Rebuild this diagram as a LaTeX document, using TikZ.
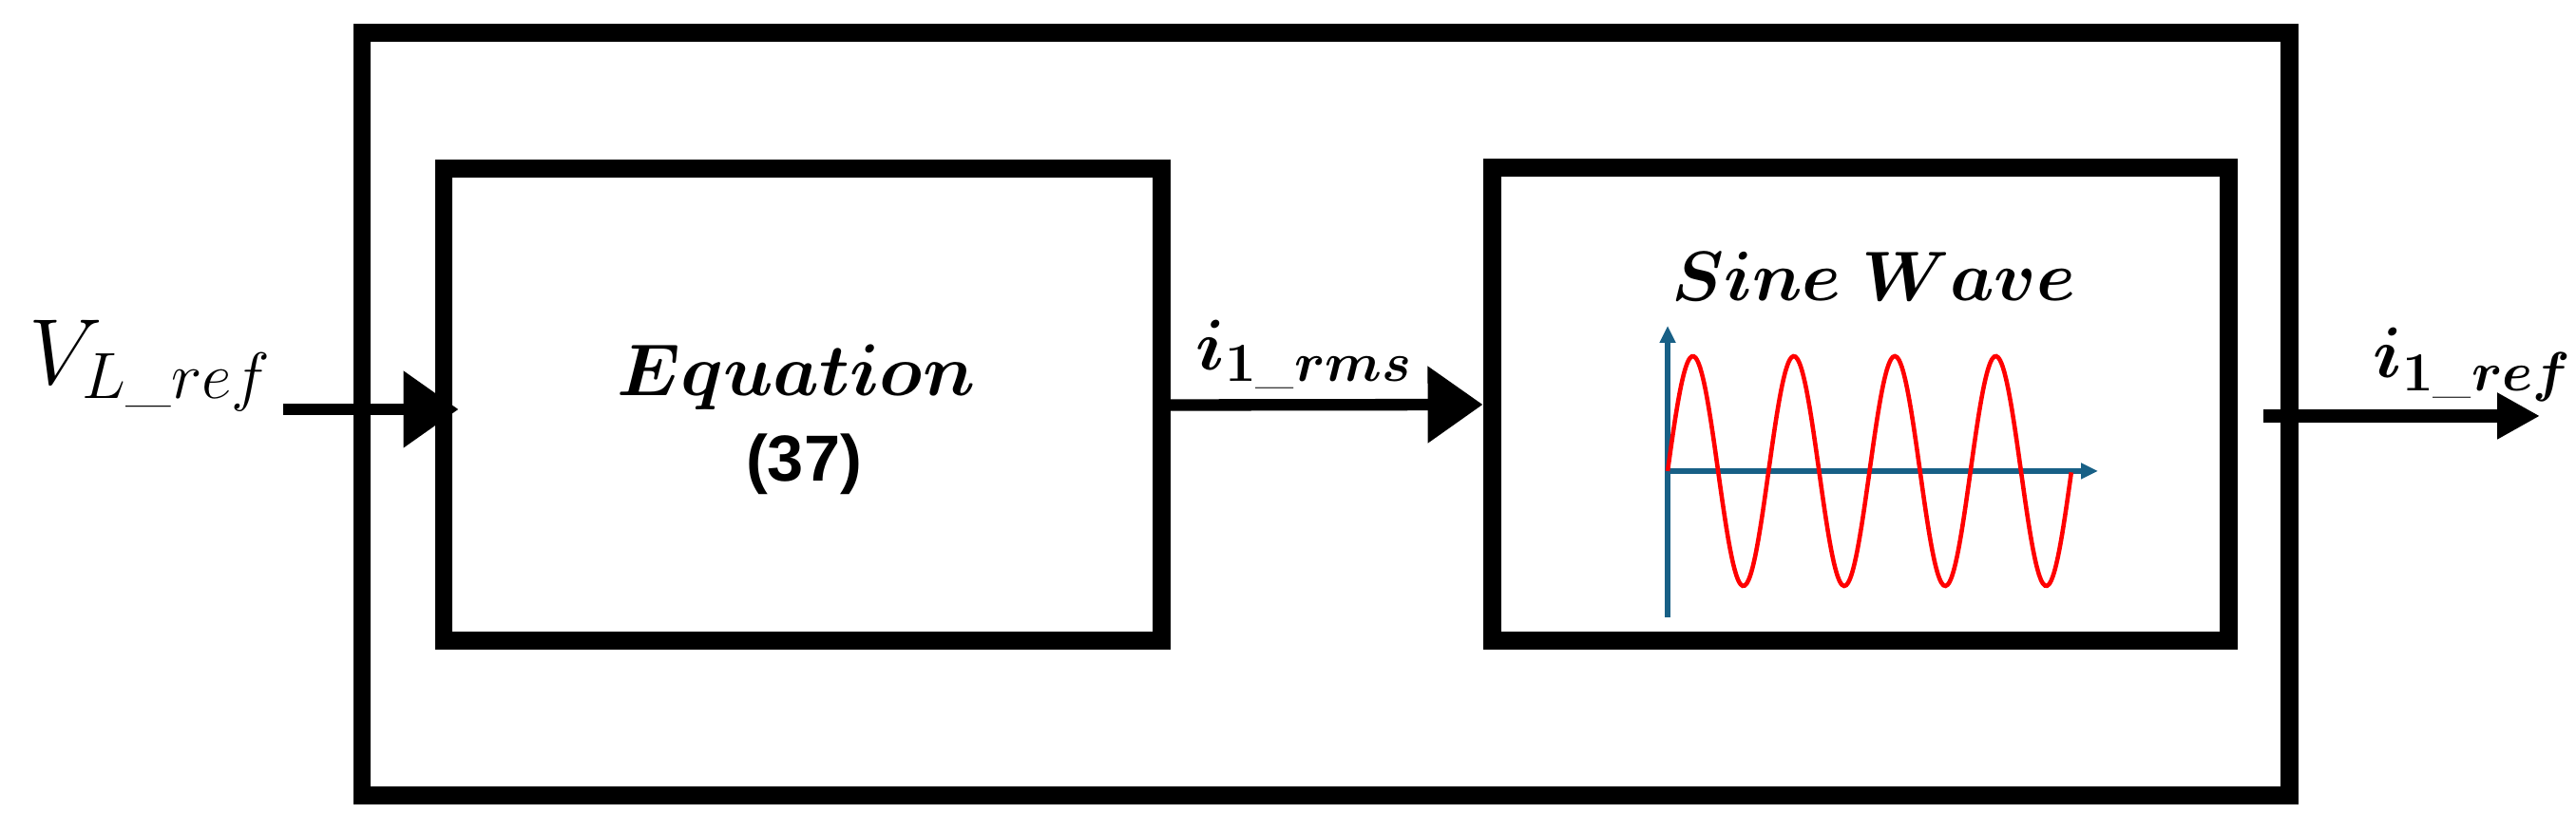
\RequirePackage{fix-cm}
\documentclass[tikz,border=0pt]{standalone}
\usepackage{amsmath, amssymb}
\usepackage{fontspec}
\usepackage{xcolor}
\usepackage{tikz}
\usetikzlibrary{calc, arrows.meta}

\newfontfamily\arialfont{Liberation Sans}
\definecolor{axisblue}{RGB}{24,96,134}
\DeclareMathSizes{21.5}{21.5}{16.5}{12}

\tikzset{
	block/.style = {draw, line width = 5.4pt, inner sep = 0pt},
	signal/.style = {line width = 3.5pt, -{Triangle[length = 0.58cm, width = 0.78cm]}},
	axisline/.style = {axisblue, line width = 1.9pt, -{Triangle[length = 1.8mm, width = 1.6mm]}},
}

\begin{document}
\begin{tikzpicture}
		\def\w{1.0625};
		\def\A{1.21};
		\useasboundingbox (0,0) rectangle (27.11,8.76);

		\node [block, minimum width = 20.28cm, minimum height = 8.03cm] (outer) at (13.95,4.395) {};
		\node [block, minimum width = 7.55cm, minimum height = 4.97cm] (eqbox) at (8.445,4.495) {};
		\node [block, minimum width = 7.75cm, minimum height = 4.98cm] (sinebox) at (19.575,4.5) {};

		\node [anchor = base, font = \fontsize{22}{26}\selectfont] (eqname) at (8.38,4.59) {$\boldsymbol{Equation}$};
		\node [anchor = base, font = \arialfont\bfseries\fontsize{19.5}{23}\selectfont] (eqnum) at (8.46,3.69) {(37)};
		\node [anchor = base, font = \fontsize{21}{25}\selectfont] (sinename) at (19.72,5.59) {$\boldsymbol{Sine\ Wave}$};

		\node [anchor = base west, inner sep = 0pt, font = \fontsize{28}{32}\selectfont] (vref) at (0.30,4.71) {$V_{L\_ref}$};
		\node [anchor = base west, inner sep = 0pt, font = \fontsize{21.5}{25}\selectfont] (irms) at (12.58,4.86) {$\boldsymbol{i_{1\_rms}}$};
		\node [anchor = base west, inner sep = 0pt, font = \fontsize{21.5}{25}\selectfont] (iref) at (24.97,4.78) {$\boldsymbol{i_{1\_ref}}$};

		\coordinate (vin) at (2.98,4.45);
		\coordinate (ostart) at (23.82,4.38);
		\coordinate (oend) at (26.73,4.38);

		\draw [signal, shorten >= -0.25cm] (vin) -- (vin -| eqbox.west);
		\draw [signal] (eqbox.east) -- (sinebox.west);
		\draw [line width = 3.9pt, -{Triangle[length = 0.45cm, width = 0.46cm]}] (ostart) -- (oend);

		% the wave inside the second block
		\coordinate (o) at (17.55,3.80);
		\draw [axisline] ([yshift = -1.54cm]o) -- ([yshift = 1.53cm]o);
		\draw [axisline] (o) -- ([xshift = 4.53cm]o);
		\draw [red, line width = 1.3pt, shift = {(o)}] plot [domain = 0:4*\w, samples = 200, smooth] (\x, {\A*sin(360*\x/\w)});
	\end{tikzpicture}
\end{document}
